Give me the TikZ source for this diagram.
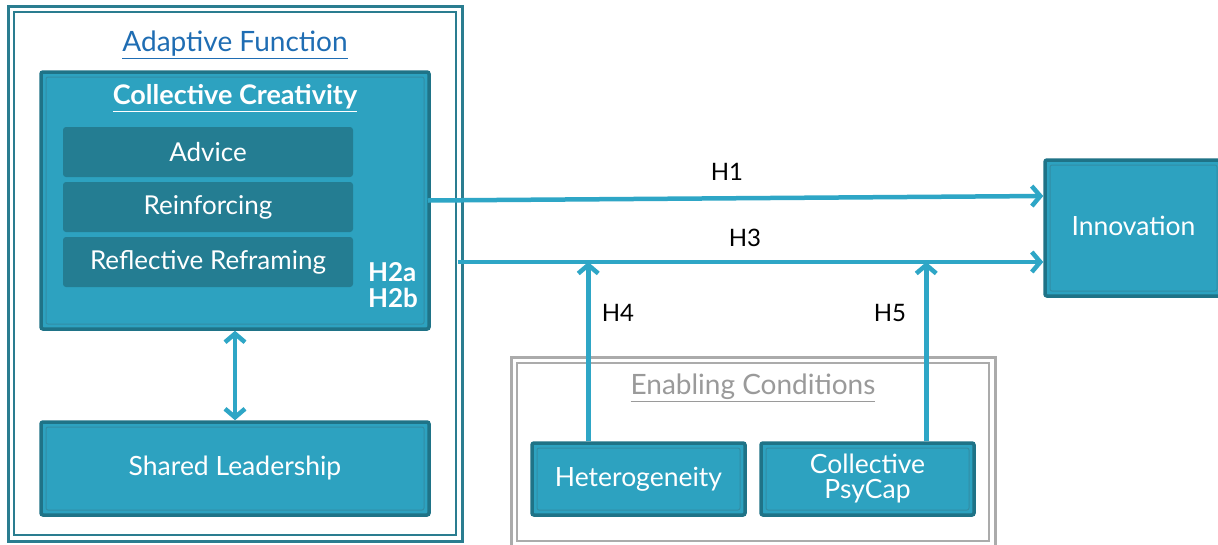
\documentclass[tikz,border=0pt]{standalone}
\usepackage{fontspec}
\setmainfont{Lato}
\usetikzlibrary{arrows.meta,calc}
\definecolor{boxfill}{HTML}{2DA2C0}
\definecolor{boxedge}{HTML}{1F7387}
\definecolor{boxinner}{HTML}{3A9AB2}
\definecolor{subfill}{HTML}{247D92}
\definecolor{arrcol}{HTML}{2EA6C6}
\definecolor{frameedge}{HTML}{2A7D90}
\definecolor{titleblue}{HTML}{1F6DB3}
\definecolor{graybox}{HTML}{ABABAB}
\definecolor{graytext}{HTML}{9A9A9A}
\tikzset{
  tealbox/.style={fill=boxfill, draw=boxedge, line width=3.5pt, rounded corners=2pt,
    text=white, font=\fontsize{26.5}{29}\selectfont, align=center, inner sep=0pt,
    path picture={\draw[boxinner!70!boxedge, line width=1pt]
      ([shift={(5pt,-5pt)}]path picture bounding box.north west) rectangle
      ([shift={(-5pt,5pt)}]path picture bounding box.south east);}},
  subbox/.style={fill=subfill, draw=none, rounded corners=3pt, text=white,
    font=\fontsize{26}{29}\selectfont, minimum width=290pt, minimum height=50pt, inner sep=0pt},
  framebox/.style={draw=#1, line width=3pt, fill=white, inner sep=0pt,
    path picture={\draw[#1, line width=1.2pt]
      ([shift={(6pt,-6pt)}]path picture bounding box.north west) rectangle
      ([shift={(-6pt,6pt)}]path picture bounding box.south east);}},
  arr/.style={draw=arrcol, line width=4.5pt, -{Straight Barb[length=8.5pt,width=20pt]}},
  darr/.style={draw=arrcol, line width=4.5pt, {Straight Barb[length=8.5pt,width=20pt]}-{Straight Barb[length=8.5pt,width=20pt]}},
  hlab/.style={font=\fontsize{24}{26}\selectfont\addfontfeatures{Weight=Light}, text=black, inner sep=0pt}
}
\begin{document}
\begin{tikzpicture}[x=1pt,y=-1pt]
\useasboundingbox (0,0) rectangle (1218,544);
\clip (0,0) rectangle (1218,544);
\fill[white] (0,0) rectangle (1218,544);
% frames
\node[framebox=frameedge, minimum width=454pt, minimum height=535pt] (af) at (235,273.5) {};
\node[font=\fontsize{28}{30}\selectfont, text=titleblue] (aft) at (235,45) {\underline{Adaptive Function}};
\node[framebox=graybox, minimum width=484pt, minimum height=190pt] (ec) at (753,452) {};
\node[font=\fontsize{28}{30}\selectfont, text=graytext] (ect) at (753,388) {\underline{Enabling Conditions}};
% collective creativity
\node[tealbox, minimum width=388pt, minimum height=257pt] (cc) at (235,200.5) {};
\node[font=\fontsize{27}{29}\selectfont\bfseries, text=white] (cct) at (235,98) {\underline{Collective Creativity}};
\node[subbox] (adv) at (208,152) {Advice};
\node[subbox] (rei) at (208,207) {Reinforcing};
\node[subbox] (ref) at (208,262) {Reflective Reframing};
\node[font=\fontsize{26}{28}\selectfont\bfseries, text=white, align=left, inner sep=0pt] (h2) at (393,285) {H2a\\[-2pt]H2b};
% other boxes
\node[tealbox, minimum width=388pt, minimum height=93pt] (sl) at (235,468.5) {Shared Leadership};
\node[tealbox, minimum width=213pt, minimum height=72pt] (het) at (638.5,479) {Heterogeneity};
\node[tealbox, minimum width=213pt, minimum height=72pt] (psy) at (867.5,479) {Collective\\[-4pt]PsyCap};
\node[tealbox, minimum width=177pt, minimum height=136pt] (inno) at (1133.5,228) {\raisebox{4pt}{Innovation}};
% connectors
\draw[darr] (cc.south) -- (sl.north);
\coordinate (h1e) at ($(inno.west)+(0,-32)$);
\coordinate (h1s) at ($(cc.east)+(-3,0)$);
\draw[arr] (h1s) -- (h1e);
\coordinate (h3s) at ($(af.east)+(-6,-11.5)$);
\coordinate (h3e) at ($(inno.west)+(0,34)$);
\draw[arr] (h3s) -- (h3e);
\coordinate (h4a) at ($(het.north west)+(58,0)$);
\draw[arr] (h4a) -- (h4a |- h3s);
\coordinate (h5a) at ($(psy.north west)+(167,0)$);
\draw[arr] (h5a) -- (h5a |- h3s);
% labels
\node[hlab] (l1) at (727,172) {H1};
\node[hlab] (l3) at (745,238) {H3};
\node[hlab] (l4) at (618,313) {H4};
\node[hlab] (l5) at (890,313) {H5};
\end{tikzpicture}
\end{document}
